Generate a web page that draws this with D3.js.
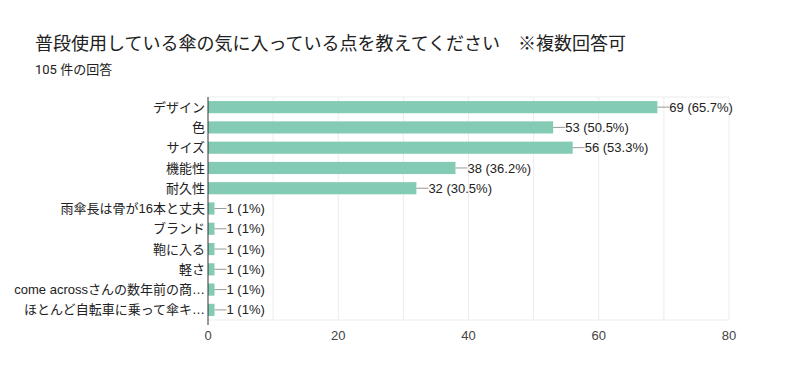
<!DOCTYPE html>
<html>
<head>
<meta charset="utf-8">
<script src="https://cdn.jsdelivr.net/npm/d3@7"></script>
<style>
  body { margin: 0; background: #fff; }
  svg { font-family: "Liberation Sans", Arial, "Noto Sans CJK JP", sans-serif; }
</style>
</head>
<body>
<script>
var width = 800
var height = 365

// answers and counts
var categories = ["デザイン", "色", "サイズ", "機能性", "耐久性", "雨傘長は骨が16本と丈夫", "ブランド", "鞄に入る", "軽さ", "come acrossさんの数年前の商…", "ほとんど自転車に乗って傘キ…"]
var counts = [69, 53, 56, 38, 32, 1, 1, 1, 1, 1, 1]
var percents = ["65.7%", "50.5%", "53.3%", "36.2%", "30.5%", "1%", "1%", "1%", "1%", "1%", "1%"]
var xTicks = [0, 20, 40, 60, 80]
var gridTicks = [10, 20, 30, 40, 50, 60, 70, 80]

var margin = {top: 97, right: 71, bottom: 45, left: 208}

var svg = d3.select("body").append("svg")
    .attr("width", width)
    .attr("height", height)

svg.append("text")
    .attr("x", 35).attr("y", 50)
    .style("font-family", "Roboto, 'Noto Sans CJK JP', sans-serif")
    .style("font-size", "18px")
    .style("fill", "#212121")
    .text("普段使用している傘の気に入っている点を教えてください　※複数回答可")

svg.append("text")
    .attr("x", 35).attr("y", 74)
    .style("font-family", "Roboto, 'Noto Sans CJK JP', sans-serif")
    .style("font-size", "13px")
    .style("fill", "#212121")
    .text("105 件の回答")

var x = d3.scaleLinear().domain([0, 80]).range([margin.left, width - margin.right])
var y = d3.scaleBand().domain(categories).range([margin.top, height - margin.bottom]).paddingInner(0.4).paddingOuter(0.2)

// grid
svg.selectAll(".grid")
    .data(gridTicks)
    .enter().append("line")
    .attr("x1", function(d) { return x(d) }).attr("x2", function(d) { return x(d) })
    .attr("y1", margin.top).attr("y2", height - margin.bottom)
    .style("stroke", "#ececec")

svg.append("line")
    .attr("x1", x(0)).attr("x2", x(80))
    .attr("y1", margin.top).attr("y2", margin.top)
    .style("stroke", "#ececec")
svg.append("line")
    .attr("x1", x(0)).attr("x2", x(80))
    .attr("y1", height - margin.bottom).attr("y2", height - margin.bottom)
    .style("stroke", "#ececec")

// bars
svg.selectAll(".bar")
    .data(counts)
    .enter().append("rect")
    .attr("x", x(0))
    .attr("y", function(d, i) { return y(categories[i]) })
    .attr("width", function(d) { return x(d) - x(0) })
    .attr("height", y.bandwidth())
    .style("fill", "#84cbb6")

// leader lines + value labels
svg.selectAll(".lead")
    .data(counts)
    .enter().append("line")
    .attr("x1", function(d) { return x(d) })
    .attr("x2", function(d) { return x(d) + 12 })
    .attr("y1", function(d, i) { return y(categories[i]) + y.bandwidth() / 2 })
    .attr("y2", function(d, i) { return y(categories[i]) + y.bandwidth() / 2 })
    .style("stroke", "#999")

svg.selectAll(".val")
    .data(counts)
    .enter().append("text")
    .attr("x", function(d) { return x(d) + 12 })
    .attr("y", function(d, i) { return y(categories[i]) + y.bandwidth() / 2 })
    .attr("dy", "0.35em")
    .style("font-size", "13px")
    .style("fill", "#222")
    .text(function(d, i) { return d + " (" + percents[i] + ")" })

// category labels
svg.selectAll(".cat")
    .data(categories)
    .enter().append("text")
    .attr("x", x(0) - 3)
    .attr("y", function(d) { return y(d) + y.bandwidth() / 2 })
    .attr("dy", "0.35em")
    .attr("text-anchor", "end")
    .style("font-size", "13px")
    .style("fill", "#222")
    .text(function(d) { return d })

// baseline
svg.append("line")
    .attr("x1", x(0)).attr("x2", x(0))
    .attr("y1", margin.top).attr("y2", height - margin.bottom + 5)
    .style("stroke", "#333")

// x tick labels
svg.selectAll(".tick")
    .data(xTicks)
    .enter().append("text")
    .attr("x", function(d) { return x(d) })
    .attr("y", 340)
    .attr("text-anchor", "middle")
    .style("font-size", "13px")
    .style("fill", "#444")
    .text(function(d) { return d })
</script>
</body>
</html>
